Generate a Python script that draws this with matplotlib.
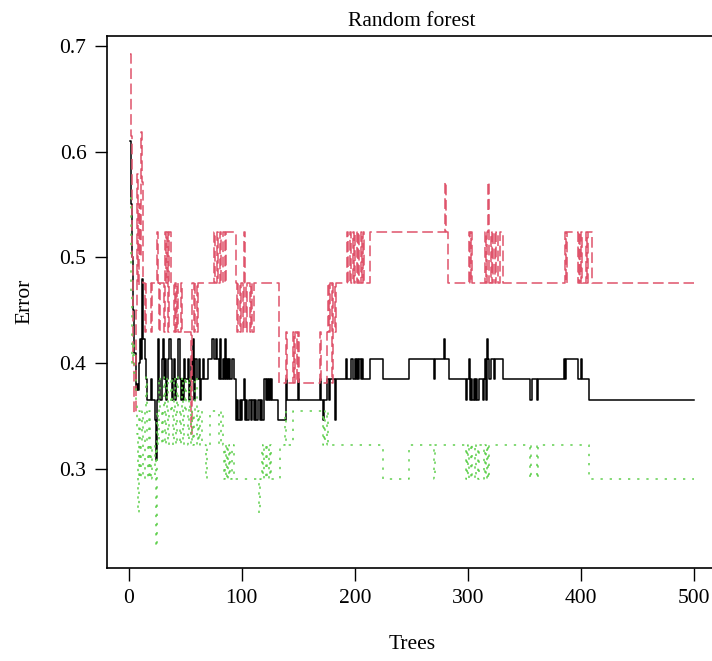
import matplotlib
matplotlib.use("Agg")
from matplotlib import pyplot as plt

plt.rcParams["font.family"] = ["Liberation Serif", "DejaVu Serif"]

# error rates, listed at the trees where each one changes
oob_trees = [1, 2, 3, 4, 5, 6, 7, 8, 9, 10, 11, 12, 13, 14, 15, 16, 20, 21, 23, 24,
             25, 26, 27, 28, 29, 30, 31, 32, 33, 34, 35, 36, 37, 38, 39, 40, 41, 42, 44, 45,
             46, 47, 48, 49, 50, 52, 53, 54, 55, 56, 57, 58, 59, 60, 62, 63, 64, 66, 67, 70,
             74, 75, 77, 78, 80, 81, 82, 83, 84, 85, 86, 87, 88, 89, 90, 91, 93, 95, 96, 97,
             98, 99, 100, 102, 103, 104, 105, 106, 108, 109, 111, 112, 113, 114, 116, 117, 118, 120, 121, 122,
             123, 124, 125, 126, 127, 132, 139, 140, 150, 151, 169, 170, 172, 173, 175, 177, 178, 182, 183, 192,
             193, 197, 198, 200, 201, 202, 203, 204, 205, 206, 207, 213, 225, 248, 270, 271, 279, 280, 283, 298,
             299, 301, 302, 303, 304, 305, 306, 307, 308, 310, 313, 314, 315, 316, 317, 318, 319, 320, 323, 324,
             331, 355, 357, 361, 362, 385, 386, 387, 397, 400, 401, 407, 500]
oob_err = [0.61, 0.55, 0.5, 0.45, 0.41, 0.375, 0.38, 0.375, 0.4, 0.423, 0.404, 0.48, 0.423, 0.404, 0.385, 0.365, 0.385, 0.365, 0.346, 0.308,
           0.365, 0.423, 0.385, 0.365, 0.404, 0.423, 0.385, 0.404, 0.365, 0.385, 0.404, 0.423, 0.404, 0.365, 0.385, 0.404, 0.365, 0.385, 0.423, 0.385,
           0.365, 0.385, 0.365, 0.404, 0.385, 0.404, 0.365, 0.385, 0.404, 0.385, 0.423, 0.365, 0.404, 0.385, 0.404, 0.365, 0.385, 0.404, 0.385, 0.404,
           0.423, 0.404, 0.423, 0.404, 0.385, 0.423, 0.385, 0.404, 0.385, 0.423, 0.385, 0.404, 0.385, 0.404, 0.385, 0.404, 0.385, 0.346, 0.365, 0.346,
           0.365, 0.346, 0.365, 0.385, 0.346, 0.365, 0.346, 0.365, 0.346, 0.365, 0.346, 0.365, 0.346, 0.365, 0.346, 0.365, 0.346, 0.385, 0.365, 0.385,
           0.365, 0.385, 0.365, 0.385, 0.365, 0.346, 0.385, 0.365, 0.385, 0.365, 0.385, 0.365, 0.346, 0.365, 0.385, 0.365, 0.385, 0.346, 0.385, 0.404,
           0.385, 0.404, 0.385, 0.404, 0.385, 0.404, 0.385, 0.404, 0.385, 0.404, 0.385, 0.404, 0.385, 0.404, 0.385, 0.404, 0.423, 0.404, 0.385, 0.365,
           0.385, 0.404, 0.365, 0.385, 0.365, 0.385, 0.365, 0.385, 0.365, 0.385, 0.365, 0.385, 0.404, 0.365, 0.423, 0.404, 0.385, 0.404, 0.385, 0.404,
           0.385, 0.365, 0.385, 0.365, 0.385, 0.404, 0.385, 0.404, 0.385, 0.404, 0.385, 0.365, 0.365]

class1_trees = [1, 2, 3, 4, 5, 6, 7, 8, 9, 10, 11, 12, 13, 14, 15, 20, 21, 25, 26, 27,
                28, 31, 32, 33, 34, 35, 36, 37, 40, 41, 42, 43, 44, 46, 47, 55, 56, 58, 59, 60,
                61, 75, 76, 78, 79, 81, 82, 83, 85, 86, 95, 96, 97, 98, 99, 101, 102, 103, 104, 105,
                107, 108, 109, 111, 133, 139, 140, 145, 146, 147, 149, 150, 151, 169, 170, 175, 176, 177, 178, 180,
                181, 182, 183, 193, 194, 196, 197, 198, 199, 200, 202, 203, 204, 205, 206, 207, 208, 213, 280, 281,
                282, 301, 302, 303, 304, 315, 316, 317, 318, 319, 320, 321, 322, 324, 325, 327, 328, 331, 386, 387,
                388, 397, 398, 399, 400, 401, 404, 405, 406, 410, 500]
class1_err = [0.692, 0.615, 0.5, 0.4, 0.353, 0.45, 0.579, 0.474, 0.55, 0.5, 0.619, 0.571, 0.476, 0.429, 0.476, 0.429, 0.476, 0.524, 0.476, 0.429,
              0.476, 0.429, 0.524, 0.476, 0.524, 0.429, 0.524, 0.476, 0.429, 0.476, 0.429, 0.476, 0.429, 0.476, 0.429, 0.333, 0.476, 0.429, 0.476, 0.429,
              0.476, 0.524, 0.476, 0.524, 0.476, 0.524, 0.476, 0.524, 0.476, 0.524, 0.476, 0.429, 0.476, 0.429, 0.476, 0.429, 0.524, 0.476, 0.429, 0.476,
              0.429, 0.476, 0.429, 0.476, 0.381, 0.429, 0.381, 0.429, 0.381, 0.429, 0.381, 0.429, 0.381, 0.429, 0.381, 0.429, 0.476, 0.429, 0.476, 0.381,
              0.476, 0.429, 0.476, 0.524, 0.476, 0.524, 0.476, 0.524, 0.476, 0.524, 0.476, 0.524, 0.476, 0.524, 0.476, 0.524, 0.476, 0.524, 0.571, 0.524,
              0.476, 0.524, 0.476, 0.524, 0.476, 0.524, 0.476, 0.524, 0.571, 0.476, 0.524, 0.476, 0.524, 0.476, 0.524, 0.476, 0.524, 0.476, 0.524, 0.476,
              0.524, 0.476, 0.524, 0.476, 0.524, 0.476, 0.524, 0.476, 0.524, 0.476, 0.476]

class2_trees = [1, 2, 3, 4, 5, 6, 7, 8, 9, 10, 11, 12, 13, 14, 15, 16, 17, 18, 19, 20,
                21, 23, 24, 25, 26, 27, 28, 29, 30, 31, 32, 33, 34, 35, 36, 37, 38, 39, 40, 41,
                42, 43, 44, 45, 46, 47, 48, 49, 50, 51, 52, 53, 54, 55, 56, 57, 58, 59, 60, 61,
                62, 63, 65, 68, 69, 72, 80, 82, 83, 84, 85, 86, 87, 88, 89, 90, 91, 93, 115, 116,
                118, 119, 120, 121, 122, 124, 125, 126, 134, 138, 139, 145, 172, 173, 174, 175, 176, 225, 248, 270,
                271, 298, 299, 300, 301, 303, 304, 306, 307, 309, 310, 314, 315, 316, 317, 318, 319, 355, 356, 361,
                362, 407, 500]
class2_err = [0.556, 0.467, 0.4, 0.42, 0.391, 0.36, 0.333, 0.258, 0.355, 0.29, 0.323, 0.355, 0.29, 0.355, 0.387, 0.323, 0.29, 0.355, 0.29, 0.323,
              0.29, 0.323, 0.226, 0.355, 0.323, 0.387, 0.355, 0.323, 0.355, 0.387, 0.323, 0.355, 0.387, 0.323, 0.355, 0.387, 0.355, 0.323, 0.387, 0.355,
              0.323, 0.387, 0.355, 0.323, 0.355, 0.387, 0.323, 0.355, 0.387, 0.355, 0.323, 0.387, 0.355, 0.323, 0.355, 0.323, 0.355, 0.387, 0.323, 0.355,
              0.323, 0.355, 0.323, 0.29, 0.323, 0.355, 0.323, 0.355, 0.323, 0.29, 0.323, 0.29, 0.323, 0.29, 0.323, 0.29, 0.323, 0.29, 0.258, 0.29,
              0.323, 0.29, 0.323, 0.29, 0.323, 0.29, 0.323, 0.29, 0.323, 0.355, 0.323, 0.355, 0.323, 0.355, 0.323, 0.355, 0.323, 0.29, 0.323, 0.29,
              0.323, 0.29, 0.323, 0.29, 0.323, 0.29, 0.323, 0.29, 0.323, 0.29, 0.323, 0.29, 0.323, 0.29, 0.323, 0.29, 0.323, 0.29, 0.323, 0.29,
              0.323, 0.29, 0.29]

x_ticks = [0, 100, 200, 300, 400, 500]
y_ticks = [0.3, 0.4, 0.5, 0.6, 0.7]

fig = plt.figure(figsize=(7.12, 6.61), dpi=100)
ax = fig.add_axes([0.1507, 0.1412, 0.8558, 0.8048])

ax.plot(oob_trees, oob_err, color="black", linewidth=1.1, drawstyle="steps-post")
ax.plot(class1_trees, class1_err, color="#DF536B", linewidth=1.1,
        linestyle=(0, (7, 3)), drawstyle="steps-post")
ax.plot(class2_trees, class2_err, color="#61D04F", linewidth=1.1,
        linestyle=(0, (1.5, 4.5)), drawstyle="steps-post")

ax.set_xlim(-18.96, 519.96)
ax.set_ylim(0.2066, 0.7096)
ax.set_xticks(x_ticks)
ax.set_yticks(y_ticks)
ax.set_yticklabels([f"{v:.1f}" for v in y_ticks])
ax.tick_params(direction="out", length=9, width=1.0, labelsize=15.5, pad=6)
for s in ax.spines.values():
    s.set_linewidth(1.2)

ax.set_title("Random forest", fontsize=15.5, pad=7)
ax.set_xlabel("Trees", fontsize=15.5, labelpad=20)
ax.set_ylabel("Error", fontsize=15.5, labelpad=18)

fig.savefig("out.png", dpi=100)
